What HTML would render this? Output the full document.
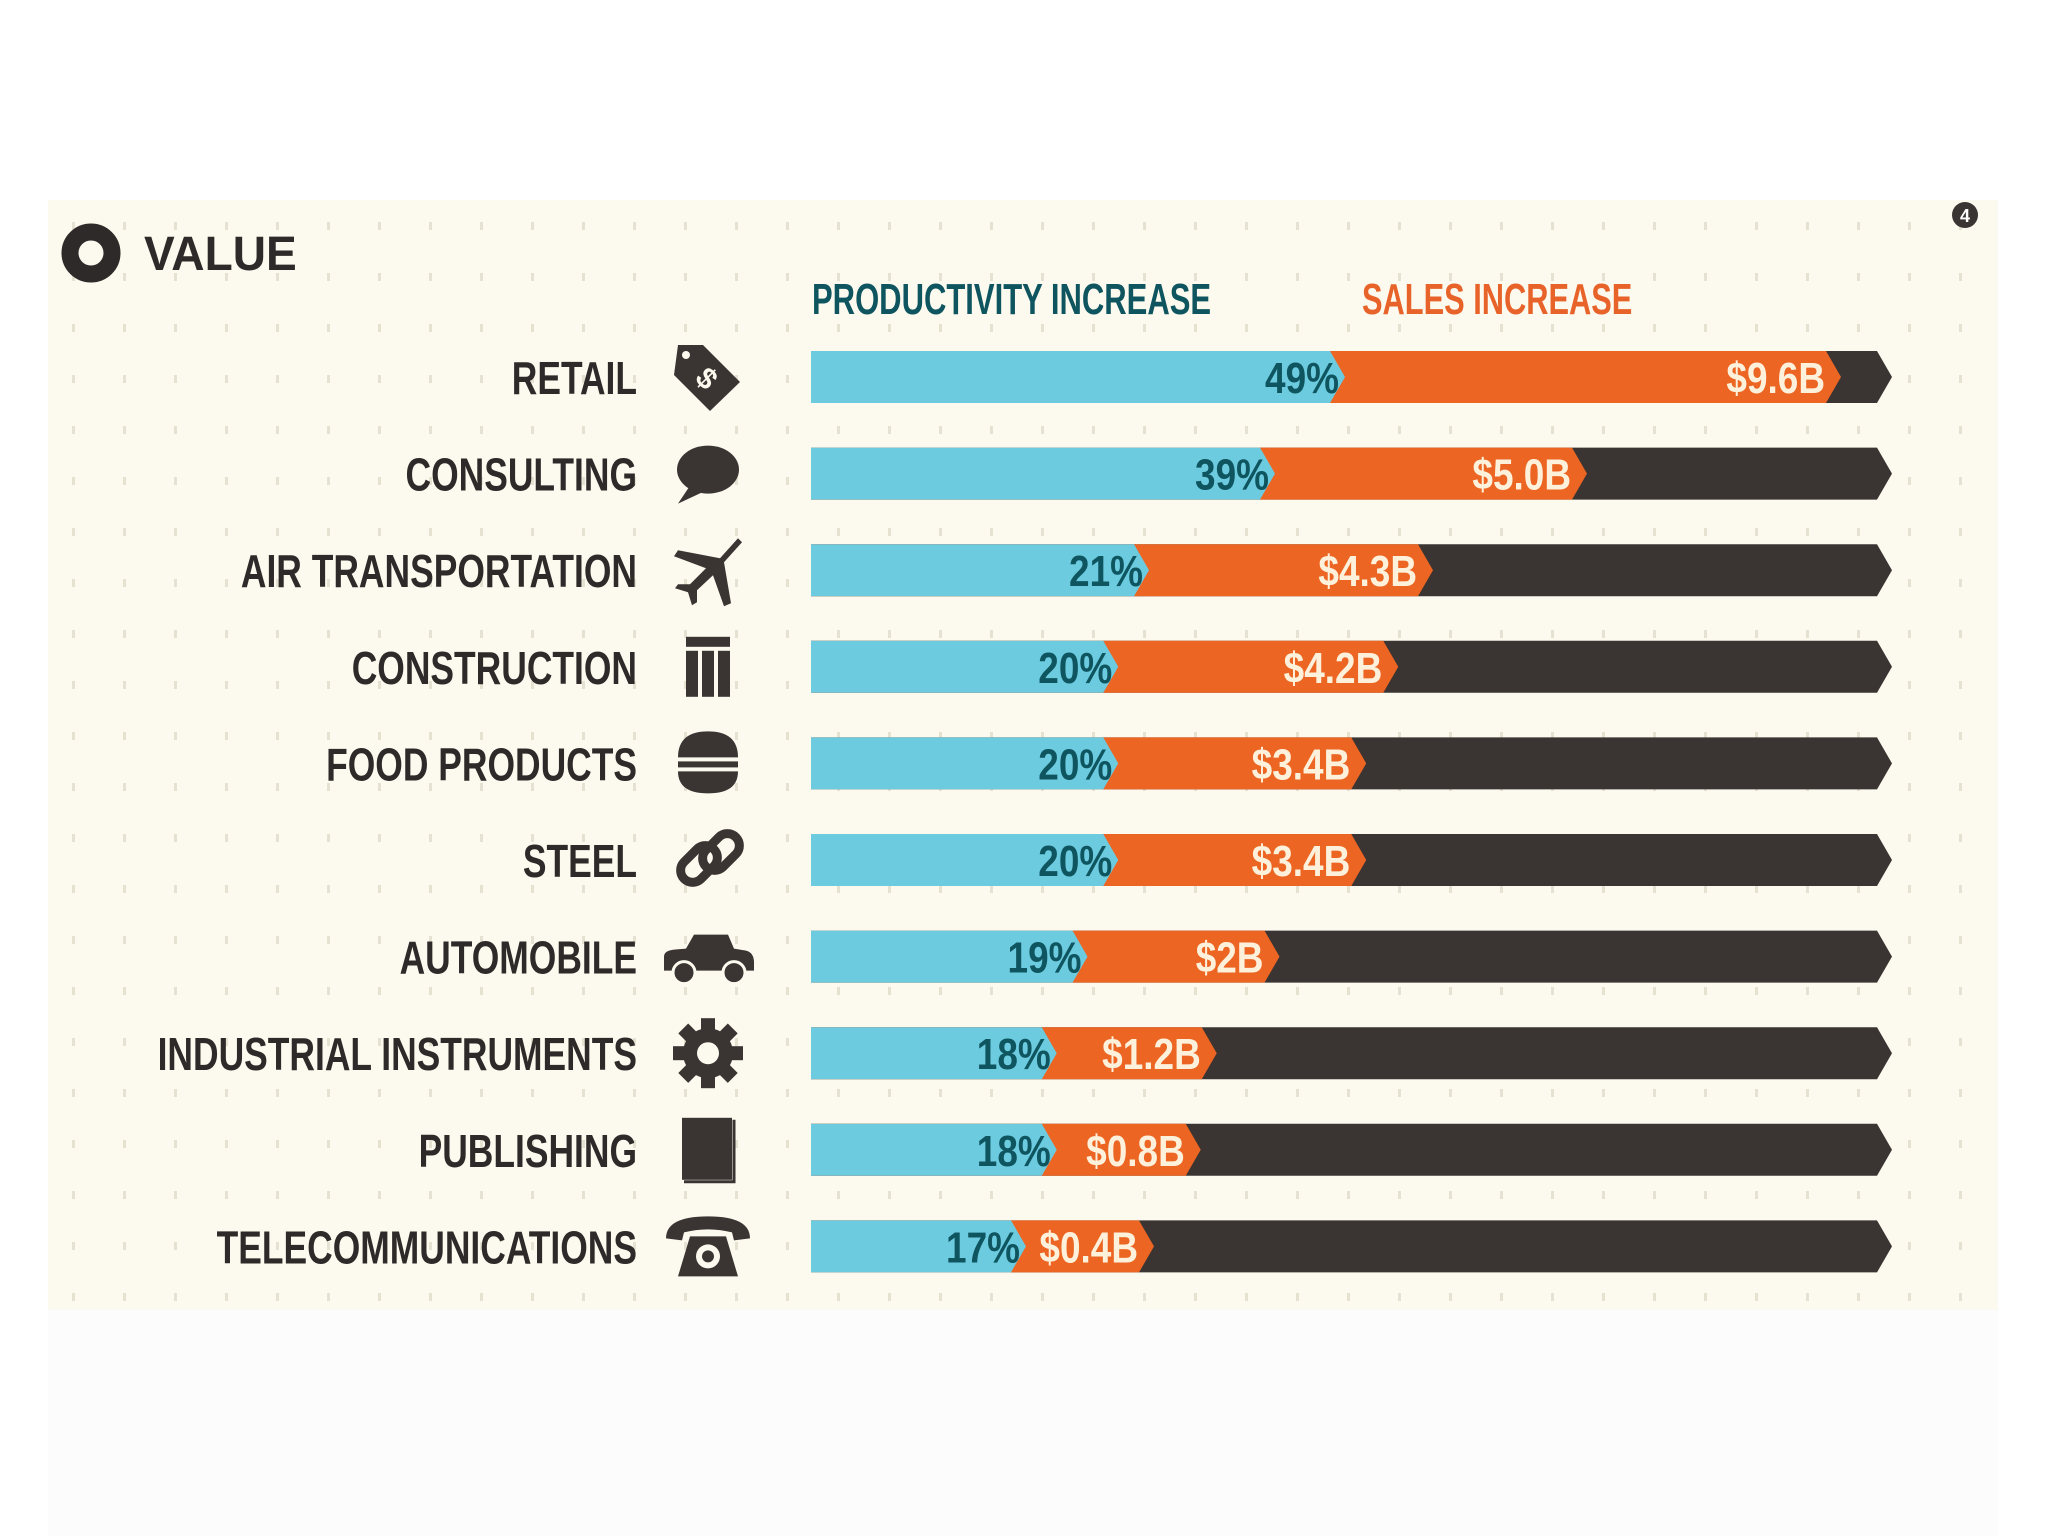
<!DOCTYPE html>
<html><head><meta charset="utf-8">
<style>
html,body{margin:0;padding:0;background:#fff;}
svg{display:block;}
text{font-family:"Liberation Sans",sans-serif;font-weight:bold;}
</style></head>
<body>
<svg id="chart" width="2048" height="1536" viewBox="0 0 2048 1536" xmlns="http://www.w3.org/2000/svg">
<defs>
<pattern id="dots" x="48" y="200" width="51" height="51" patternUnits="userSpaceOnUse">
<rect x="24" y="22" width="3" height="8" fill="#e6e2d2"/>
</pattern>
</defs>
<rect x="48" y="1310" width="1950" height="226" fill="#fcfcfc"/>
<rect x="48" y="200" width="1950" height="1110" fill="#fcfaee"/>
<rect x="48" y="200" width="1950" height="1110" fill="url(#dots)"/>
<circle cx="91" cy="253" r="21" fill="none" stroke="#2e2a2a" stroke-width="17"/>
<g transform="translate(144,270) scale(0.96,1)"><text x="0" y="0" font-size="48" fill="#2e2a2a">VALUE</text></g>
<circle cx="1965" cy="215" r="13" fill="#3a3433"/>
<text x="1965" y="222" font-size="18" fill="#fff" text-anchor="middle">4</text>
<g transform="translate(812,314) scale(0.705,1)"><text x="0" y="0" font-size="44" fill="#0f5560">PRODUCTIVITY INCREASE</text></g>
<g transform="translate(1362,314) scale(0.70,1)"><text x="0" y="0" font-size="44" fill="#e8632a">SALES INCREASE</text></g>
<g id="rows"></g>
</svg>
<script>
const categories = ["RETAIL","CONSULTING","AIR TRANSPORTATION","CONSTRUCTION","FOOD PRODUCTS","STEEL","AUTOMOBILE","INDUSTRIAL INSTRUMENTS","PUBLISHING","TELECOMMUNICATIONS"];
const productivity = [49,39,21,20,20,20,19,18,18,17];
const sales = [9.6,5.0,4.3,4.2,3.4,3.4,2,1.2,0.8,0.4];
const productivityLabels = ["49%","39%","21%","20%","20%","20%","19%","18%","18%","17%"];
const salesLabels = ["$9.6B","$5.0B","$4.3B","$4.2B","$3.4B","$3.4B","$2B","$1.2B","$0.8B","$0.4B"];
const icons = ["tag","speech","plane","columns","burger","chain","car","gear","book","phone"];

const NS = "http://www.w3.org/2000/svg";
const X0 = 811, XEND = 1892, TIP = 15, BAR_H = 52;
function rowY(i){ return 377 + i*96.6; }
// piecewise-linear productivity scale (designer's non-uniform axis)
const pDomain = [0, 17, 21, 49];
const pRange = [0, 215, 338, 534];
function blueX(v){
  let k = 1;
  while (k < pDomain.length-1 && v > pDomain[k]) k++;
  const t = (v - pDomain[k-1])/(pDomain[k]-pDomain[k-1]);
  return X0 + pRange[k-1] + t*(pRange[k]-pRange[k-1]);
}
function orangeW(v){ return 112 + 40*v; }

function mk(tag, attrs, parent){
  const e = document.createElementNS(NS, tag);
  for (const k in attrs) e.setAttribute(k, attrs[k]);
  parent.appendChild(e);
  return e;
}
function chevron(x0, x1, cy){
  const t = cy - BAR_H/2, b = cy + BAR_H/2;
  return `M${x0},${t} L${x1-TIP},${t} L${x1},${cy} L${x1-TIP},${b} L${x0},${b} Z`;
}
function drawIcon(kind, cx, cy, g){
  const c = "#3a3433";
  if (kind==="tag"){
    mk("path",{d:`M${cx-30},${cy-32} L${cx-5},${cy-32} L${cx+32},${cy+5} L${cx+2},${cy+34} L${cx-34},${cy-2} Z`,fill:c},g);
    mk("circle",{cx:cx-22,cy:cy-22,r:4,fill:"#fcfaee"},g);
    mk("text",{x:cx,y:cy+12,"font-size":30,fill:"#fcfaee","text-anchor":"middle",transform:`rotate(45 ${cx} ${cy})`},g).textContent="$";
  } else if (kind==="speech"){
    mk("ellipse",{cx:cx,cy:cy-4,rx:31,ry:24,fill:c},g);
    mk("path",{d:`M${cx-18},${cy+12} L${cx-30},${cy+30} L${cx},${cy+16} Z`,fill:c},g);
  } else if (kind==="plane"){
    mk("path",{d:`M${cx+30},${cy-32} L${cx+12},${cy-12} L${cx-30},${cy-20} L${cx-34},${cy-14} L${cx-2},${cy-2} L${cx-18},${cy+14} L${cx-30},${cy+14} L${cx-33},${cy+18} L${cx-20},${cy+22} L${cx-16},${cy+35} L${cx-11},${cy+32} L${cx-11},${cy+20} L${cx+5},${cy+5} L${cx+16},${cy+36} L${cx+23},${cy+33} L${cx+16},${cy-8} L${cx+34},${cy-28} Z`,fill:c},g);
  } else if (kind==="columns"){
    mk("rect",{x:cx-22,y:cy-30,width:44,height:10,fill:c},g);
    for (let k=0;k<3;k++) mk("rect",{x:cx-22+k*16,y:cy-16,width:12,height:46,fill:c},g);
  } else if (kind==="burger"){
    mk("path",{d:`M${cx-30},${cy-6} Q${cx-30},${cy-32} ${cx},${cy-32} Q${cx+30},${cy-32} ${cx+30},${cy-6} Z`,fill:c},g);
    mk("rect",{x:cx-30,y:cy-2,width:60,height:6,fill:c},g);
    mk("path",{d:`M${cx-30},${cy+8} L${cx+30},${cy+8} Q${cx+30},${cy+30} ${cx},${cy+30} Q${cx-30},${cy+30} ${cx-30},${cy+8} Z`,fill:c},g);
  } else if (kind==="chain"){
    mk("rect",{x:cx-30,y:cy-8,width:42,height:24,rx:12,fill:"none",stroke:c,"stroke-width":9,transform:`rotate(-45 ${cx-9} ${cy+4})`},g);
    mk("rect",{x:cx-8,y:cy-20,width:42,height:24,rx:12,fill:"none",stroke:c,"stroke-width":9,transform:`rotate(-45 ${cx+13} ${cy-8})`},g);
  } else if (kind==="car"){
    mk("path",{d:`M${cx-44},${cy+14} L${cx-44},${cy} Q${cx-44},${cy-6} ${cx-34},${cy-7} L${cx-22},${cy-8} L${cx-14},${cy-22} L${cx+20},${cy-22} L${cx+26},${cy-8} L${cx+38},${cy-6} Q${cx+46},${cy-4} ${cx+46},${cy+6} L${cx+46},${cy+14} Z`,fill:c},g);
    mk("circle",{cx:cx-24,cy:cy+16,r:11,fill:c,stroke:"#fcfaee","stroke-width":3},g);
    mk("circle",{cx:cx+26,cy:cy+16,r:11,fill:c,stroke:"#fcfaee","stroke-width":3},g);
  } else if (kind==="gear"){
    mk("circle",{cx:cx,cy:cy,r:25,fill:c},g);
    for (let k=0;k<8;k++) mk("rect",{x:cx-7,y:cy-35,width:14,height:16,fill:c,transform:`rotate(${k*45} ${cx} ${cy})`},g);
    mk("circle",{cx:cx,cy:cy,r:11,fill:"#fcfaee"},g);
  } else if (kind==="book"){
    mk("rect",{x:cx-26,y:cy-32,width:50,height:62,fill:c},g);
    mk("path",{d:`M${cx+26},${cy-30} L${cx+26},${cy+32} L${cx-24},${cy+32}`,fill:"none",stroke:c,"stroke-width":3},g);
  } else {
    mk("path",{d:`M${cx-42},${cy-8} Q${cx-42},${cy-30} ${cx},${cy-30} Q${cx+42},${cy-30} ${cx+42},${cy-8} L${cx+26},${cy-6} L${cx+24},${cy-14} Q${cx},${cy-20} ${cx-24},${cy-14} L${cx-26},${cy-6} Z`,fill:c},g);
    mk("path",{d:`M${cx-18},${cy-10} L${cx+18},${cy-10} L${cx+30},${cy+30} L${cx-30},${cy+30} Z`,fill:c},g);
    mk("circle",{cx:cx,cy:cy+10,r:12,fill:"#fcfaee"},g);
    mk("circle",{cx:cx,cy:cy+10,r:6,fill:c},g);
  }
}

const rows = document.getElementById("rows");
categories.forEach((cat, i) => {
  const cy = rowY(i);
  const g = mk("g",{},rows);
  
  

  const lg = mk("g",{transform:`translate(637,${cy+17}) scale(0.77,1)`},g);
  const lt = mk("text",{x:0,y:0,"font-size":46,fill:"#2e2a2a","text-anchor":"end"},lg);
  lt.textContent = cat;
  
  

  const ig = mk("g",{},g);
  
  
  drawIcon(icons[i], 708, cy, ig);

  const bx = blueX(productivity[i]);
  const ox = bx + orangeW(sales[i]);

  const dark = mk("path",{d:chevron(X0, XEND, cy),fill:"#3a3433"},g);
  
  
  const orange = mk("path",{d:chevron(X0, ox, cy),fill:"#ec6522"},g);
  
  
  const blue = mk("path",{d:chevron(X0, bx, cy),fill:"#6ccbdf"},g);
  
  

  const pg = mk("g",{transform:`translate(${bx-6},${cy+16}) scale(0.84,1)`},g);
  const pt = mk("text",{x:0,y:0,"font-size":44,fill:"#0f5560","text-anchor":"end"},pg);
  pt.textContent = productivityLabels[i];
  
  

  const sg = mk("g",{transform:`translate(${ox-16},${cy+16}) scale(0.84,1)`},g);
  const st = mk("text",{x:0,y:0,"font-size":44,fill:"#fdf1dc","text-anchor":"end"},sg);
  st.textContent = salesLabels[i];
  
  
});
</script>
</body></html>
